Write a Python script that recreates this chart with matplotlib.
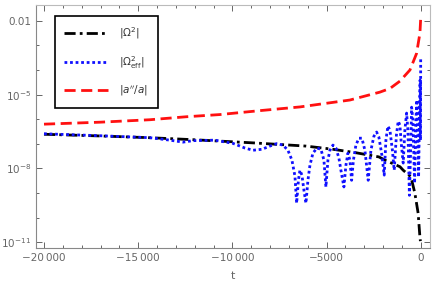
import matplotlib
matplotlib.use("Agg")
import matplotlib.pyplot as plt
import numpy as np
from matplotlib.ticker import FixedLocator, FuncFormatter

# values (log10 of the magnitudes)
t_omega = [-20000, -17000, -14400, -12100, -8900, -6100, -4660, -3440, -2220,
           -1900, -1100, -930, -520, -310, -135, -42, -15]
log_omega = [-6.61, -6.68, -6.75, -6.83, -6.96, -7.09, -7.22, -7.36, -7.53,
             -7.66, -7.93, -8.07, -8.34, -9.0, -9.82, -10.78, -10.95]

t_eff = [-20000, -17028, -14374, -13313, -12622, -12092, -10924, -9968, -9331,
         -8907, -8429, -8004, -7633, -7314, -7049, -6837, -6677, -6587, -6492,
         -6412, -6306, -6200, -6093, -5987, -5881, -5722, -5510, -5297, -5138,
         -5032, -4926, -4820, -4660, -4501, -4342, -4236, -4077, -3970, -3864,
         -3758, -3668, -3572, -3440, -3280, -3121, -2962, -2787, -2643, -2484,
         -2341, -2219, -2060, -1937, -1847, -1741, -1635, -1502, -1407, -1290,
         -1194, -1104, -1024, -929, -839, -748, -679, -600, -520, -483, -414,
         -324, -255, -202, -149, -111, -69, -32, -11, 0]
log_eff = [-6.59, -6.67, -6.75, -6.85, -6.93, -6.87, -6.85, -6.98, -7.17,
           -7.26, -7.22, -7.09, -6.99, -7.05, -7.26, -7.66, -8.31, -9.41, -8.48,
           -8.07, -8.27, -8.88, -9.41, -8.48, -7.87, -7.38, -7.17, -7.22, -7.66,
           -8.75, -7.66, -7.26, -7.05, -7.17, -7.58, -8.07, -8.75, -7.87, -7.38,
           -7.66, -8.48, -7.66, -7.05, -6.77, -6.77, -7.26, -8.48, -7.26, -6.69,
           -6.52, -6.73, -7.46, -8.27, -6.85, -6.28, -6.44, -7.26, -8.07, -6.65,
           -6.08, -6.24, -7.05, -7.78, -6.44, -5.75, -6.44, -9.09, -6.85, -5.51,
           -6.04, -8.60, -6.04, -5.22, -6.85, -8.35, -6.04, -4.41, -6.85, -3.52]

t_aa = [-20000, -17030, -14370, -12460, -10660, -8530, -6410, -3760, -2170,
        -1630, -1100, -570, -220, -40, 0]
log_aa = [-6.20, -6.12, -6.02, -5.90, -5.81, -5.65, -5.50, -5.22, -4.90,
          -4.75, -4.45, -4.00, -3.33, -2.50, -1.90]

x_major = [-20000, -15000, -10000, -5000, 0]
y_major = [1e-11, 1e-8, 1e-5, 1e-2]
y_major_labels = [r"$10^{-11}$", r"$10^{-8}$", r"$10^{-5}$", "0.01"]

plt.rcParams["font.family"] = "DejaVu Sans"
plt.rcParams["mathtext.fontset"] = "dejavusans"

fig = plt.figure(figsize=(4.36, 2.92), dpi=100)
ax = fig.add_axes([36 / 436, 44 / 292, 394 / 436, 243 / 292])

ax.plot(t_omega, 10.0 ** np.array(log_omega), color="black", lw=2.0,
        dashes=(4, 1.5, 1, 1.5), label=r"$|\Omega^2|$")
ax.plot(t_eff, 10.0 ** np.array(log_eff), color="#1010ff", lw=2.0,
        dashes=(1, 1), label=r"$|\Omega^2_{\rm eff}|$")
ax.plot(t_aa, 10.0 ** np.array(log_aa), color="#ff1010", lw=2.0,
        dashes=(4, 2), label=r"$|a''/a|$")

ax.set_yscale("log")
ax.set_xlim(-20425, 494)
ax.set_ylim(10 ** -11.23, 10 ** -1.36)

gray = "#666666"
ax.xaxis.set_major_locator(FixedLocator(x_major))
ax.xaxis.set_minor_locator(FixedLocator(np.arange(-20000, 1, 1000)))


def fmt_x(v, pos):
    s = f"{abs(int(v)):d}"
    if len(s) > 4:
        s = s[:-3] + "\u2009" + s[-3:]
    return ("\u2212" + s) if v < 0 else s


ax.xaxis.set_major_formatter(FuncFormatter(fmt_x))
ax.yaxis.set_major_locator(FixedLocator(y_major))
ax.yaxis.set_minor_locator(FixedLocator([10.0 ** k for k in range(-11, -1)]))
ax.set_yticklabels(y_major_labels)
ax.yaxis.set_minor_formatter(FuncFormatter(lambda v, p: ""))

ax.tick_params(which="both", direction="in", top=True, right=True,
               colors=gray, labelsize=7.5, width=0.7)
ax.tick_params(which="major", length=4)
ax.tick_params(which="minor", length=2.5)
ax.tick_params(axis="both", labelcolor=gray)
for side in ["left", "bottom"]:
    ax.spines[side].set_color("#888888")
for side in ["top", "right"]:
    ax.spines[side].set_color("#bbbbbb")

ax.set_xlabel("t", color=gray, fontsize=8, labelpad=6)

leg = ax.legend(loc="upper left", bbox_to_anchor=(0.048, 0.955),
                borderaxespad=0, fancybox=False, framealpha=1,
                edgecolor="black", fontsize=7.5, handlelength=4.2,
                labelspacing=1.25, borderpad=0.9, handletextpad=1.1)
leg.get_frame().set_linewidth(1.2)
for txt in leg.get_texts():
    txt.set_color("#333333")

fig.savefig("out.png", dpi=100)
